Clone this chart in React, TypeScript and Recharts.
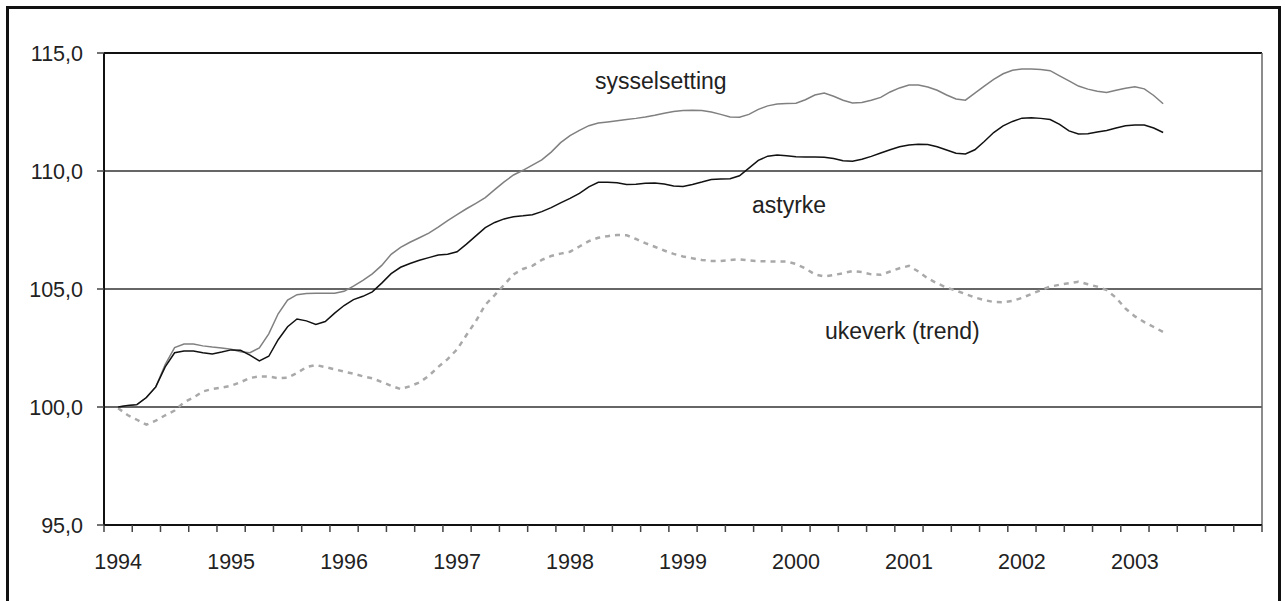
import React from 'react';
import { LineChart, Line, XAxis, YAxis, CartesianGrid, ReferenceLine, Customized } from 'recharts';

// Monthly index values, Jan 1994 .. Apr 2003 (1994 = 100)
const sysselsetting = [
  100.0, 100.05, 100.1, 100.4, 100.85, 101.8, 102.52, 102.67, 102.67, 102.59, 102.54, 102.5,
  102.45, 102.34, 102.3, 102.5, 103.1, 103.95, 104.53, 104.76, 104.81, 104.82, 104.82, 104.82,
  104.9, 105.12, 105.37, 105.64, 106.0, 106.47, 106.76, 106.98, 107.17, 107.37, 107.62, 107.9,
  108.15, 108.4, 108.63, 108.87, 109.21, 109.54, 109.83, 110.03, 110.25, 110.47, 110.8, 111.2,
  111.5, 111.72, 111.92, 112.03, 112.08, 112.13, 112.18, 112.23, 112.29, 112.36, 112.45, 112.52,
  112.56, 112.57, 112.56, 112.5, 112.4, 112.29, 112.28, 112.4, 112.61, 112.76, 112.84, 112.86,
  112.87, 113.02, 113.22, 113.3, 113.17, 113.0, 112.88, 112.9, 113.0, 113.12, 113.35, 113.52,
  113.64, 113.64, 113.56, 113.42, 113.22, 113.05, 113.0, 113.3, 113.6, 113.88, 114.12, 114.27,
  114.32, 114.32, 114.3, 114.25, 114.03, 113.82, 113.6, 113.47, 113.38, 113.33, 113.42, 113.51,
  113.57, 113.48, 113.2, 112.85,
];

const astyrke = [
  100.0, 100.06, 100.1, 100.4, 100.85, 101.7, 102.3, 102.37, 102.37, 102.3, 102.25, 102.33,
  102.42, 102.4, 102.2, 101.95, 102.15, 102.85, 103.4, 103.73, 103.65, 103.5, 103.62, 103.98,
  104.3, 104.55, 104.69, 104.88, 105.25, 105.65, 105.92, 106.08, 106.22, 106.33, 106.44, 106.47,
  106.58, 106.9, 107.25, 107.6, 107.82, 107.97, 108.06, 108.1, 108.15, 108.28, 108.45, 108.65,
  108.84, 109.05, 109.33, 109.52, 109.52, 109.5, 109.43, 109.44, 109.48, 109.49, 109.45, 109.36,
  109.34, 109.43, 109.53, 109.64, 109.66, 109.67, 109.8, 110.12, 110.45, 110.63, 110.68, 110.65,
  110.6, 110.59, 110.59, 110.58, 110.53, 110.43, 110.41, 110.5, 110.62, 110.76, 110.9, 111.03,
  111.1, 111.13, 111.12, 111.03, 110.89, 110.75, 110.72, 110.9, 111.25, 111.63, 111.91, 112.1,
  112.24, 112.26, 112.23, 112.18, 111.98, 111.7, 111.57, 111.58, 111.65, 111.72, 111.82, 111.92,
  111.95, 111.95, 111.82, 111.63,
];

const ukeverk = [
  99.95, 99.66, 99.46, 99.25, 99.42, 99.65, 99.85, 100.2, 100.4, 100.66, 100.76, 100.82,
  100.9, 101.05, 101.23, 101.3, 101.29, 101.22, 101.24, 101.44, 101.69, 101.78, 101.69, 101.6,
  101.5, 101.41, 101.3, 101.22, 101.06, 100.9, 100.76, 100.88, 101.04, 101.32, 101.7, 102.03,
  102.44, 103.05, 103.64, 104.33, 104.74, 105.18, 105.62, 105.85, 105.98, 106.23, 106.4, 106.5,
  106.58, 106.8, 107.03, 107.17, 107.24, 107.29, 107.28, 107.12, 106.94, 106.79, 106.63, 106.49,
  106.38, 106.3, 106.23, 106.19, 106.19, 106.23, 106.26, 106.21, 106.18, 106.17, 106.16, 106.16,
  106.06, 105.87, 105.62, 105.53, 105.59, 105.67, 105.76, 105.72, 105.62, 105.6, 105.74, 105.88,
  105.98, 105.74, 105.45, 105.24, 105.06, 104.93, 104.79, 104.64, 104.53, 104.45, 104.44, 104.5,
  104.62, 104.79, 104.95, 105.1, 105.18, 105.25, 105.31, 105.2, 105.1, 104.95, 104.63, 104.17,
  103.84, 103.6, 103.39, 103.18,
];

const yearLabels = ['1994', '1995', '1996', '1997', '1998', '1999', '2000', '2001', '2002', '2003'];
const yTicks = [95, 100, 105, 110, 115];

const seriesNames = { s: 'sysselsetting', a: 'astyrke', u: 'ukeverk (trend)' };

const data = sysselsetting.map((s, i) => ({ x: i + 1.5, s, a: astyrke[i], u: ukeverk[i] }));

const X_MAX = 123;
const tickMarks = Array.from({ length: X_MAX / 3 + 1 }, (_, i) => i * 3);
const labelPos = yearLabels.map((_, k) => 1.5 + 12 * k);
const xTicks = [...tickMarks, ...labelPos].sort((a, b) => a - b);

const FONT = '"Liberation Sans", Arial, Helvetica, sans-serif';

const XTick = (props: any) => {
  const { x, y, payload } = props;
  const v = payload.value;
  if (Number.isInteger(v)) {
    return <line x1={x} x2={x} y1={y} y2={y + 7} stroke="#444" strokeWidth={1.5} />;
  }
  const idx = labelPos.indexOf(v);
  return (
    <text x={x} y={y + 44} textAnchor="middle" fontSize={21.5} fill="#222" fontFamily={FONT}>
      {yearLabels[idx]}
    </text>
  );
};

const Annotations = () => (
  <g fontFamily={FONT} fontSize={23} fill="#222">
    <text x={595} y={89}>{seriesNames.s}</text>
    <text x={752} y={213}>{seriesNames.a}</text>
    <text x={825} y={339}>{seriesNames.u}</text>
  </g>
);

export default function App() {
  return (
    <div style={{ position: 'absolute', left: 0, top: 0, width: 1285, height: 601, overflow: 'hidden', background: '#fff' }}>
      <div
        style={{
          position: 'absolute', left: 6, top: 6, width: 1275, height: 700,
          boxSizing: 'border-box', border: '3px solid #111', borderBottom: 'none',
        }}
      />
      <div style={{ position: 'absolute', left: 0, top: 0 }}>
        <LineChart
          width={1285}
          height={601}
          data={data}
          margin={{ top: 53, right: 23, bottom: 36, left: 14 }}
          style={{ fontFamily: FONT }}
        >
          <CartesianGrid vertical={false} stroke="#333" strokeWidth={1.5} />
          <ReferenceLine y={115} stroke="#111" strokeWidth={2} />
          <ReferenceLine x={X_MAX} stroke="#666" strokeWidth={1.5} />
          <XAxis
            dataKey="x"
            type="number"
            domain={[0, X_MAX]}
            ticks={xTicks}
            interval={0}
            height={40}
            tickSize={0}
            tickMargin={0}
            tickLine={false}
            axisLine={{ stroke: '#111', strokeWidth: 2 }}
            tick={<XTick />}
            allowDataOverflow
          />
          <YAxis
            type="number"
            domain={[95, 115]}
            ticks={yTicks}
            interval={0}
            width={90}
            tickSize={7}
            tickMargin={14}
            axisLine={{ stroke: '#111', strokeWidth: 2 }}
            tickLine={{ stroke: '#444', strokeWidth: 1.5 }}
            tick={{ fontSize: 21.5, fill: '#222', fontFamily: FONT }}
            tickFormatter={(v: number) => v.toFixed(1).replace('.', ',')}
            allowDataOverflow
          />
          <Line
            dataKey="u"
            type="linear"
            stroke="#a9a9a9"
            strokeWidth={2.5}
            strokeDasharray="5 5"
            dot={false}
            activeDot={false}
            isAnimationActive={false}
          />
          <Line
            dataKey="s"
            type="linear"
            stroke="#808080"
            strokeWidth={1.5}
            dot={false}
            activeDot={false}
            isAnimationActive={false}
          />
          <Line
            dataKey="a"
            type="linear"
            stroke="#111"
            strokeWidth={1.5}
            dot={false}
            activeDot={false}
            isAnimationActive={false}
          />
          <Customized component={Annotations} />
        </LineChart>
      </div>
    </div>
  );
}
